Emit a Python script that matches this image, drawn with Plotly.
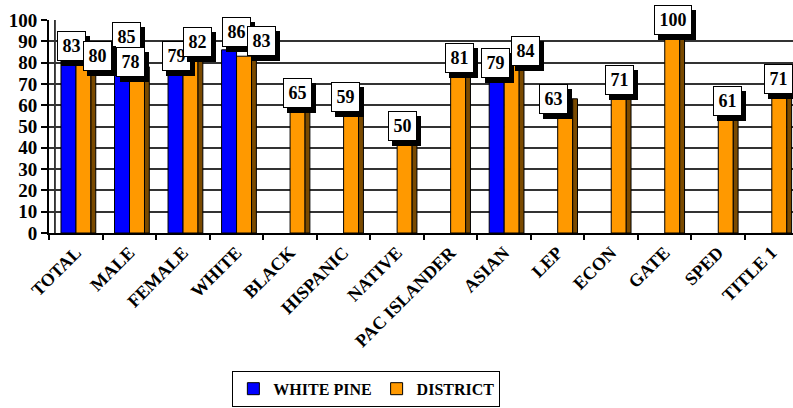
import plotly.graph_objects as go

categories = ["TOTAL", "MALE", "FEMALE", "WHITE", "BLACK", "HISPANIC", "NATIVE",
              "PAC ISLANDER", "ASIAN", "LEP", "ECON", "GATE", "SPED", "TITLE 1"]
white_pine = [83, 85, 79, 86, None, None, None, None, 79, None, None, None, None, None]
district = [80, 78, 82, 83, 65, 59, 50, 81, 84, 63, 71, 100, 61, 71]
y_ticks = [0, 10, 20, 30, 40, 50, 60, 70, 80, 90, 100]

# label nudges in px (dx right, dy up) -- styling only
wp_nudge = [(-4, 10), (-3, 15), (-6, 9), (0, 18), None, None, None, None, (-8, 2),
            None, None, None, None, None]
di_nudge = [(22, 7), (1, 5), (15, 16), (25, 15), (8, 2), (2, 10), (6, 1), (9, 2),
            (22, 3), (-4, 0), (8, 2), (8, 0), (9, 2), (7, 3)]

FONT = "Liberation Serif, Times New Roman, serif"
BLUE = "#0000FF"
ORANGE = "#FF9900"
SIDE = "#7A4A00"

fig = go.Figure()
fig.add_trace(go.Bar(x=categories, y=white_pine, name="WHITE PINE",
                     marker=dict(color=BLUE, line=dict(color="black", width=1)),
                     offset=-0.276, width=0.28))
fig.add_trace(go.Bar(x=categories, y=district, name="DISTRICT",
                     marker=dict(color=ORANGE, line=dict(color="black", width=1)),
                     offset=0.004, width=0.28))
fig.add_trace(go.Bar(x=categories, y=district, showlegend=False, hoverinfo="skip",
                     marker=dict(color=SIDE, line=dict(color="black", width=1)),
                     offset=0.284, width=0.09))

annotations = []


def add_label(cat, val, nudge):
    dx, dy = nudge
    txt = str(val)
    w = 34 if len(txt) > 2 else 25
    lab_font = dict(family=FONT, size=18, weight="bold", color="black")
    common = dict(x=cat, y=val, xref="x", yref="y", text=txt, showarrow=False,
                  xanchor="center", yanchor="middle", width=w, height=26,
                  borderwidth=1, borderpad=1, font=lab_font)
    # shadow
    annotations.append(dict(common, xshift=dx + 4, yshift=dy - 5, bgcolor="black",
                            bordercolor="black"))
    annotations.append(dict(common, xshift=dx, yshift=dy, bgcolor="white",
                            bordercolor="black"))


for c, v, n in zip(categories, white_pine, wp_nudge):
    if v is not None:
        add_label(c, v, n)
for c, v, n in zip(categories, district, di_nudge):
    if v is not None:
        add_label(c, v, n)

fig.update_layout(
    width=793, height=408,
    margin=dict(l=49, r=0, t=20, b=175, autoexpand=False),
    paper_bgcolor="white", plot_bgcolor="white",
    barmode="overlay",
    annotations=annotations,
    shapes=[dict(type="line", xref="paper", yref="y", x0=0.008, x1=0.008, y0=0, y1=100,
                 line=dict(color="black", width=1.5), layer="below")],
    legend=dict(orientation="h", xref="container", yref="container",
                x=0.462, xanchor="center", y=0.003, yanchor="bottom",
                bordercolor="black", borderwidth=1, itemwidth=30,
                font=dict(family=FONT, size=16, weight="bold", color="black"),
                tracegroupgap=0, itemclick=False),
    xaxis=dict(type="category", range=[-0.5, 13.4], tickson="boundaries",
               automargin=False,
               ticks="outside", ticklen=5, tickwidth=1.5, tickcolor="black",
               tickangle=-45, showline=True, linecolor="black", linewidth=2,
               showgrid=False,
               tickfont=dict(family=FONT, size=18, weight="bold", color="black")),
    yaxis=dict(range=[0, 100], tickvals=y_ticks, ticks="outside", ticklen=6,
               automargin=False,
               tickwidth=1.5, tickcolor="black", showline=True, linecolor="black",
               linewidth=2, showgrid=True, gridcolor="#333333", gridwidth=1.5,
               zeroline=False,
               tickfont=dict(family=FONT, size=19, weight="bold", color="black")),
)

fig.write_html("out.html",
               config={"displayModeBar": False},
               post_script="document.body.style.margin='0px';"
                           "document.body.style.overflow='hidden';")
